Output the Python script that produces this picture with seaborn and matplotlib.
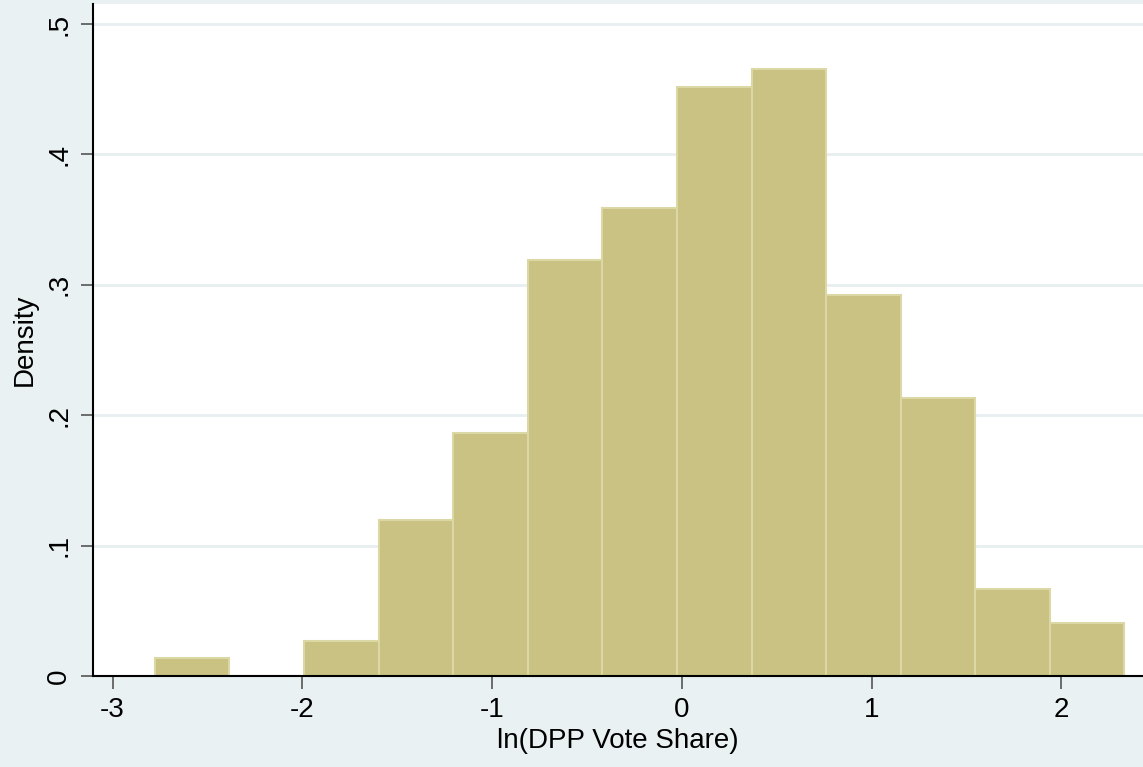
import numpy as np
import pandas as pd
import matplotlib
matplotlib.use("Agg")
import matplotlib.pyplot as plt
import seaborn as sns

# bin edges and density heights
bin_edges = [-2.777, -2.384, -1.991, -1.598, -1.205, -0.812, -0.419,
             -0.026, 0.367, 0.760, 1.153, 1.546, 1.939, 2.332]
densities = [0.0138, 0.0, 0.0268, 0.1196, 0.1863, 0.319, 0.359,
             0.4517, 0.4655, 0.2922, 0.2132, 0.0667, 0.0406]
yticks = [0, 0.1, 0.2, 0.3, 0.4, 0.5]
ytick_labels = ["0", ".1", ".2", ".3", ".4", ".5"]
xticks = [-3, -2, -1, 0, 1, 2]

centers = [(a + b) / 2 for a, b in zip(bin_edges[:-1], bin_edges[1:])]
df = pd.DataFrame({"x": centers, "w": densities})

sns.set_theme(style="white")
plt.rcParams["font.family"] = ["Liberation Sans", "DejaVu Sans"]
plt.rcParams["axes.unicode_minus"] = False

bg = "#EAF1F3"
fig = plt.figure(figsize=(11.43, 7.67), dpi=100, facecolor=bg)
ax = fig.add_axes([0.0814, 0.1186, 0.9186, 0.8762])
ax.set_facecolor("white")

sns.histplot(data=df, x="x", weights="w", bins=bin_edges, stat="count",
             color="#C9C282", alpha=1, edgecolor="#DCD8A6", linewidth=1.5, ax=ax)

ax.set_xlim(-3.103, 2.43)
ax.set_ylim(0, 0.5153)
ax.set_yticks(yticks)
ax.set_yticklabels(ytick_labels, rotation=90, va="center")
ax.set_xticks(xticks)
ax.tick_params(axis="both", labelsize=20, length=9, width=1.2, color="#555555",
               labelcolor="black", direction="out", left=True, bottom=True, pad=6)
ax.grid(axis="y", color="#E8EFF1", linewidth=2)
ax.set_axisbelow(True)

for s in ["top", "right"]:
    ax.spines[s].set_visible(False)
for s in ["left", "bottom"]:
    ax.spines[s].set_color("black")
    ax.spines[s].set_linewidth(1.5)

ax.set_xlabel("ln(DPP Vote Share)", fontsize=20, labelpad=4, color="black")
ax.set_ylabel("Density", fontsize=20, labelpad=6, color="black")

fig.savefig("out.png", dpi=100, facecolor=bg)
